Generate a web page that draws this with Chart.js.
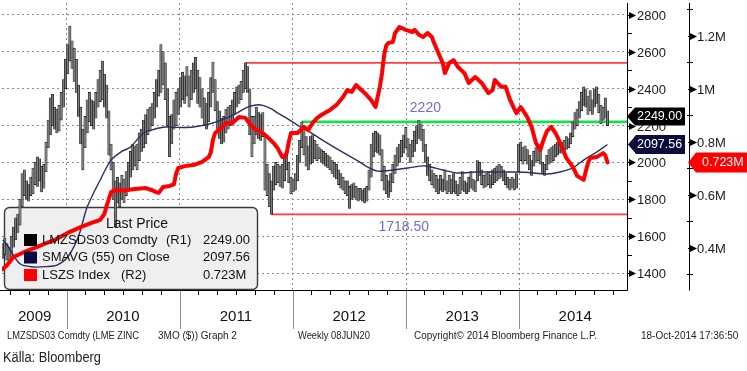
<!DOCTYPE html>
<html lang="sv">
<head>
    <meta charset="UTF-8">
    <title>LME zink - Bloomberg</title>
    <script src="https://cdn.jsdelivr.net/npm/chart.js"></script>
    <style>
        html, body { margin: 0; padding: 0; background: #fff; }
        #wrap { width: 747px; height: 371px; }
    </style>
</head>
<body>
<div id="wrap"><canvas id="zinkChart" width="747" height="371"></canvas></div>
<script>
    // Veckodata från 8 juni 2009 (vecka 0) till oktober 2014
    const lows = [
        1480,1500,1470,1450,1490,1540,1580,1620,1660,1760,
        1820,1800,1790,1820,1830,1880,1870,1900,1840,1860,
        1950,2080,2150,2200,2180,2160,2170,2230,2300,2400,
        2480,2550,2510,2440,2380,2250,2100,1960,2080,2160,
        2220,2200,2180,2240,2300,2330,2340,2300,2240,2040,
        1960,1800,1650,1780,1760,1800,1780,1820,1850,1920,
        1960,1980,1960,2010,2060,2080,2100,2150,2170,2200,
        2240,2300,2360,2380,2420,2340,2200,2030,2100,2180,
        2200,2260,2300,2340,2320,2360,2300,2340,2380,2400,
        2320,2300,2240,2200,2180,2220,2300,2380,2280,2180,
        2130,2100,2110,2160,2180,2200,2220,2260,2300,2320,
        2340,2380,2400,2380,2150,2030,2100,2150,2130,2120,
        2140,1850,1820,1760,1718,1850,1880,1890,1870,1860,
        1900,1960,1890,1830,1840,1850,1900,2000,2080,2040,
        1980,1960,1990,2000,2020,2010,2020,2000,1990,1980,
        1970,1960,1940,1920,1910,1880,1860,1850,1830,1820,
        1750,1800,1810,1800,1790,1800,1790,1780,1790,1850,
        1920,2030,2060,2050,2040,1900,1850,1830,1810,1840,
        1890,1940,1980,2000,2030,2050,2080,2030,2000,2030,
        2060,2100,2130,2120,2060,2000,1930,1900,1880,1860,
        1840,1830,1850,1840,1850,1830,1840,1830,1840,1830,
        1820,1830,1850,1840,1830,1840,1860,1850,1840,1900,
        1930,1880,1860,1870,1880,1860,1880,1890,1900,1910,
        1920,1900,1880,1860,1850,1860,1850,1860,1950,2010,
        1990,2010,1990,1960,1930,1980,2000,2010,1990,1940,
        1930,1960,1990,2000,2010,2030,2040,2050,2050,2060,
        2070,2080,2100,2140,2180,2200,2240,2280,2310,2300,
        2260,2280,2260,2300,2320,2270,2210,2230,2240,2200
    ];
    const highs = [
        1560,1590,1560,1540,1600,1650,1700,1720,1800,1940,
        1960,1900,1880,1920,1970,2000,2030,2020,1980,1990,
        2110,2230,2350,2370,2300,2290,2310,2380,2450,2560,
        2640,2740,2660,2620,2560,2420,2300,2180,2250,2340,
        2380,2340,2330,2380,2450,2500,2550,2480,2420,2280,
        2100,2000,1900,1920,1890,1930,1910,1950,2000,2060,
        2100,2090,2100,2160,2180,2230,2260,2290,2300,2320,
        2380,2450,2500,2640,2600,2540,2400,2250,2260,2340,
        2380,2400,2460,2490,2470,2520,2470,2500,2540,2570,
        2500,2460,2400,2350,2320,2380,2460,2545,2450,2330,
        2280,2240,2250,2290,2300,2310,2340,2380,2410,2420,
        2440,2500,2540,2520,2400,2250,2250,2300,2270,2260,
        2270,2150,1990,1940,1900,1980,2000,1990,1980,1990,
        2030,2060,2000,1920,1910,1940,2040,2120,2220,2200,
        2140,2090,2140,2150,2120,2100,2080,2070,2060,2050,
        2040,2030,2010,2000,1990,1960,1940,1920,1900,1900,
        1870,1880,1890,1870,1860,1860,1850,1860,1870,1960,
        2100,2160,2170,2160,2150,2070,1980,1930,1900,1940,
        1990,2040,2080,2100,2120,2150,2190,2130,2100,2120,
        2170,2200,2230,2210,2180,2100,2030,1990,1960,1940,
        1930,1910,1930,1910,1960,1900,1930,1910,1940,1900,
        1880,1920,1950,1900,1890,1920,1950,1910,1900,2010,
        2000,1960,1930,1940,1950,1930,1960,1970,1980,1990,
        1980,1960,1940,1920,1910,1920,1910,1940,2100,2110,
        2080,2090,2070,2040,2010,2060,2080,2100,2060,2000,
        1990,2040,2070,2080,2090,2100,2110,2120,2110,2120,
        2140,2130,2160,2220,2270,2290,2330,2380,2410,2400,
        2360,2390,2340,2400,2410,2370,2310,2300,2350,2280
    ];

    // SMAVG (55) on Close
    const smaWeeks = [0,2,8,14,20,25,30,35,39,45,50,55,59,65,70,75,81,88,97,103,108,113,117,120,124,127,131,137,141,145,149,153,157,161,165,168,173,180,187,195,203,210,218,227,237,245,251,257,263,268,274,279];
    const smaVals  = [1580,1552,1450,1433,1435,1443,1487,1600,1758,1905,2013,2060,2084,2160,2180,2192,2190,2192,2214,2240,2268,2300,2312,2310,2290,2268,2240,2195,2170,2140,2110,2082,2055,2027,2000,1977,1953,1959,1970,1981,1959,1943,1948,1948,1948,1943,1937,1948,1970,2013,2056,2097.56];

    // LSZS Index (lager, miljoner ton) - höger axel R2
    const lszsWeeks = [0,2,5,10,16,20,24,30,36,41,45,47,48,50,52,56,61,66,69,71,72,74,77,79,80,81,84,88,92,95,96,97,98,101,103,106,109,112,114,117,120,122,125,127,129,130,131,132,133,136,139,141,143,145,147,151,154,157,159,161,163,165,167,170,172,173,174,175,176,177,178,180,181,183,186,189,190,192,194,196,198,199,201,203,204,206,208,210,213,215,218,221,224,226,227,230,232,234,236,237,239,242,244,246,248,249,251,253,255,257,258,260,263,265,268,269,270,271,274,277,278,279];
    const lszsVals  = [0.320,0.335,0.366,0.385,0.404,0.418,0.430,0.457,0.479,0.495,0.506,0.530,0.560,0.611,0.619,0.617,0.623,0.626,0.618,0.610,0.608,0.630,0.634,0.640,0.680,0.702,0.709,0.713,0.725,0.743,0.760,0.808,0.834,0.853,0.872,0.872,0.894,0.891,0.868,0.845,0.834,0.820,0.796,0.775,0.743,0.745,0.758,0.800,0.834,0.834,0.857,0.845,0.872,0.890,0.902,0.921,0.940,0.970,0.996,0.989,1.015,1.000,0.985,0.958,0.932,0.970,1.008,1.060,1.130,1.165,1.174,1.177,1.211,1.234,1.223,1.215,1.223,1.205,1.196,1.211,1.196,1.174,1.136,1.098,1.060,1.098,1.109,1.083,1.060,1.023,1.045,1.023,0.985,0.996,1.034,1.008,1.008,0.960,0.925,0.909,0.932,0.894,0.857,0.796,0.770,0.796,0.840,0.857,0.834,0.800,0.781,0.740,0.706,0.672,0.657,0.690,0.720,0.740,0.743,0.758,0.750,0.723];

    // Horisontella nivålinjer
    const levelVals   = [2540, 2220, 1718.5];
    const levelStart  = [112, 138, 124];
    const levelColors = ['#ff3b3b', '#19e04a', '#ff3b3b'];

    // Axeltexter
    const r1Ticks  = [1400, 1600, 1800, 2000, 2200, 2400, 2600, 2800];
    const r1Minor  = [1500, 1700, 1900, 2100, 2300, 2500, 2700];
    const r2Ticks  = [0.4, 0.6, 0.8, 1.0, 1.2];
    const r2Labels = ['0.4M', '0.6M', '0.8M', '1M', '1.2M'];
    const r2Minor  = [0.3, 0.5, 0.7, 0.9, 1.1, 1.3];
    const years    = ['2009', '2010', '2011', '2012', '2013', '2014'];

    const START = Date.UTC(2009, 5, 8);
    const wk = d => (d - START) / (7 * 864e5);
    const yearStarts = [2010, 2011, 2012, 2013, 2014].map(y => wk(Date.UTC(y, 0, 1)));
    const yearMids = [yearStarts[0] / 2].concat([2010, 2011, 2012, 2013, 2014].map(y => wk(Date.UTC(y, 6, 1))));
    const monthTicks = [];
    for (let yr = 2009; yr <= 2014; yr++) {
        for (let m = 0; m < 12; m += 2) {
            const w = wk(Date.UTC(yr, m, 1));
            if (w > 0 && w < 288) monthTicks.push(w);
        }
    }

    const FONT = '"Liberation Sans", Arial, sans-serif';

    function seg(c, x1, y1, x2, y2) {
        c.beginPath(); c.moveTo(x1, y1); c.lineTo(x2, y2); c.stroke();
    }

    function tag(c, x0, x1, yc, h, color, text, tx) {
        c.beginPath();
        c.moveTo(x0, yc);
        c.lineTo(x0 + 8, yc - h / 2);
        c.lineTo(x1, yc - h / 2);
        c.lineTo(x1, yc + h / 2);
        c.lineTo(x0 + 8, yc + h / 2);
        c.closePath();
        c.fillStyle = color;
        c.fill();
        c.fillStyle = '#fff';
        c.font = '12.5px ' + FONT;
        c.textAlign = 'left';
        c.textBaseline = 'middle';
        c.fillText(text, tx, yc + 0.5, x1 - tx - 1);
    }

    function arrowTick(c, xa, yv) {
        c.beginPath();
        c.moveTo(xa + 2, yv - 3.5);
        c.lineTo(xa + 9, yv);
        c.lineTo(xa + 2, yv + 3.5);
        c.closePath();
        c.fill();
        seg(c, xa, yv, xa + 3, yv);
    }

    const decor = {
        id: 'decor',
        beforeDatasetsDraw(chart) {
            const c = chart.ctx;
            c.save();
            c.beginPath();
            c.roundRect(4.5, 207.5, 253, 82, 5);
            c.fillStyle = '#efefef';
            c.fill();
            c.lineWidth = 1.4;
            c.strokeStyle = '#3a3a3a';
            c.stroke();
            c.restore();
        },
        afterDraw(chart) {
            const c = chart.ctx;
            const a = chart.chartArea;
            const sx = chart.scales.x, sy = chart.scales.y, sy2 = chart.scales.y2;
            c.save();

            // ram
            c.strokeStyle = '#000';
            c.lineWidth = 1;
            seg(c, 0, a.bottom + 0.5, a.right + 0.5, a.bottom + 0.5);
            seg(c, a.right + 0.5, a.top, a.right + 0.5, a.bottom + 0.5);
            seg(c, 689.5, a.top, 689.5, a.bottom + 0.5);

            // tidsaxel
            monthTicks.forEach(w => {
                const px = Math.round(sx.getPixelForValue(w)) + 0.5;
                seg(c, px, a.bottom, px, a.bottom + 5);
            });
            c.strokeStyle = '#8c8c8c';
            yearStarts.forEach(w => {
                const px = Math.round(sx.getPixelForValue(w)) + 0.5;
                seg(c, px, a.bottom + 1, px, 329);
            });
            c.fillStyle = '#111';
            c.font = '15px ' + FONT;
            c.textAlign = 'center';
            c.textBaseline = 'middle';
            years.forEach((t, i) => c.fillText(t, sx.getPixelForValue(yearMids[i]), 317));

            // höger axel R1
            c.strokeStyle = '#000';
            c.fillStyle = '#000';
            r1Minor.forEach(v => {
                const py = Math.round(sy.getPixelForValue(v)) + 0.5;
                seg(c, a.right, py, a.right + 5, py);
            });
            c.font = '13px ' + FONT;
            c.textAlign = 'left';
            r1Ticks.forEach(v => {
                const py = Math.round(sy.getPixelForValue(v)) + 0.5;
                c.fillStyle = '#000';
                arrowTick(c, a.right, py);
                c.fillStyle = '#1a1a1a';
                c.fillText(String(v), 637, py + 0.5);
            });

            // höger axel R2
            r2Minor.forEach(v => {
                const py = Math.round(sy2.getPixelForValue(v)) + 0.5;
                seg(c, 687, py, 693, py);
            });
            r2Ticks.forEach((v, i) => {
                const py = Math.round(sy2.getPixelForValue(v)) + 0.5;
                c.fillStyle = '#000';
                arrowTick(c, 688, py);
                c.fillStyle = '#1a1a1a';
                c.fillText(r2Labels[i], 697, py + 0.5);
            });

            // prisetiketter
            tag(c, 627, 685, sy.getPixelForValue(2249), 18, '#000', '2249.00', 637);
            tag(c, 628, 685, sy.getPixelForValue(smaVals[smaVals.length - 1]), 19, '#0b0b3e', '2097.56', 637);
            tag(c, 688, 747, sy2.getPixelForValue(lszsVals[lszsVals.length - 1]), 20, '#ff0000', '0.723M', 702);

            // nivåetiketter
            c.fillStyle = '#6e6ecb';
            c.font = '14px ' + FONT;
            c.textAlign = 'center';
            c.fillText('2220', sx.getPixelForValue(195), sy.getPixelForValue(2220) - 14);
            c.fillText('1718.50', sx.getPixelForValue(185), sy.getPixelForValue(1718.5) + 13);

            // förklaring
            c.fillStyle = '#111';
            c.font = '14px ' + FONT;
            c.fillText('Last Price', 137, 224);
            c.font = '13px ' + FONT;
            c.textAlign = 'left';
            const rows = [
                ['#000000', 'LMZSDS03 Comdty', '(R1)', 166, '2249.00'],
                ['#0b0b3e', 'SMAVG (55) on Close', '', 0, '2097.56'],
                ['#ff0000', 'LSZS Index', '(R2)', 121, '0.723M']
            ];
            rows.forEach((r, i) => {
                const yc = 240 + i * 17.5;
                c.fillStyle = r[0];
                c.fillRect(24, yc - 6, 13, 12);
                c.fillStyle = '#111';
                c.fillText(r[1], 42, yc);
                if (r[2]) c.fillText(r[2], r[3], yc);
                c.fillText(r[4], 203, yc);
            });

            // sidfot
            c.fillStyle = '#222';
            c.font = '10px ' + FONT;
            c.fillText('LMZSDS03 Comdty (LME ZINC', 7, 336, 132);
            c.fillText('3MO ($)) Graph 2', 158, 336, 80);
            c.fillText('Weekly 08JUN20', 298, 336, 72);
            c.fillText('Copyright\u00A9 2014 Bloomberg Finance L.P.', 414, 336, 183);
            c.fillText('18-Oct-2014 17:36:50', 641, 336, 101);
            c.font = '14px ' + FONT;
            c.fillText('K\u00E4lla: Bloomberg', 3, 358, 98);
            c.restore();
        }
    };

    const ctx = document.getElementById('zinkChart').getContext('2d');
    const zinkChart = new Chart(ctx, {
        type: 'bar',
        data: {
            datasets: [
                {
                    type: 'line',
                    label: 'LSZS Index',
                    data: lszsWeeks.map((w, i) => ({ x: w, y: lszsVals[i] })),
                    yAxisID: 'y2',
                    borderColor: '#ff0000',
                    borderWidth: 4,
                    pointRadius: 0,
                    tension: 0,
                    borderJoinStyle: 'round',
                    borderCapStyle: 'round'
                },
                {
                    type: 'line',
                    label: 'SMAVG (55) on Close',
                    data: smaWeeks.map((w, i) => ({ x: w, y: smaVals[i] })),
                    yAxisID: 'y',
                    borderColor: '#2c2c66',
                    borderWidth: 1.4,
                    pointRadius: 0,
                    tension: 0.3
                },
                {
                    type: 'bar',
                    label: 'LMZSDS03 Comdty',
                    data: lows.map((lo, i) => ({ x: i, y: [lo, highs[i]] })),
                    yAxisID: 'y',
                    barThickness: 2.4,
                    backgroundColor: '#7c7c7c',
                    borderColor: '#111',
                    borderWidth: 0.6,
                    borderSkipped: false
                },
                ...levelVals.map((v, i) => ({
                    type: 'line',
                    label: 'niva' + i,
                    data: [{ x: levelStart[i], y: v }, { x: 288, y: v }],
                    yAxisID: 'y',
                    borderColor: levelColors[i],
                    borderWidth: i === 1 ? 2.6 : 1.6,
                    pointRadius: 0
                }))
            ]
        },
        options: {
            responsive: false,
            animation: false,
            devicePixelRatio: 1,
            layout: { padding: { left: 2, top: 3, right: 120, bottom: 81 } },
            plugins: { legend: { display: false }, tooltip: { enabled: false } },
            scales: {
                x: {
                    type: 'linear',
                    min: -0.3,
                    max: 288,
                    offset: false,
                    grid: { offset: false, color: '#8a8a8a', drawTicks: false },
                    border: { display: false, dash: [2, 3] },
                    ticks: { display: false },
                    afterBuildTicks: s => { s.ticks = yearStarts.map(v => ({ value: v })); }
                },
                y: {
                    type: 'linear',
                    position: 'right',
                    min: 1308,
                    max: 2865,
                    grid: { color: '#8a8a8a', drawTicks: false },
                    border: { display: false, dash: [2, 3] },
                    ticks: { display: false },
                    afterBuildTicks: s => { s.ticks = r1Ticks.map(v => ({ value: v })); }
                },
                y2: {
                    type: 'linear',
                    position: 'right',
                    min: 0.2415,
                    max: 1.3245,
                    grid: { display: false, drawTicks: false },
                    border: { display: false },
                    ticks: { display: false }
                }
            }
        },
        plugins: [decor]
    });
</script>
</body>
</html>
